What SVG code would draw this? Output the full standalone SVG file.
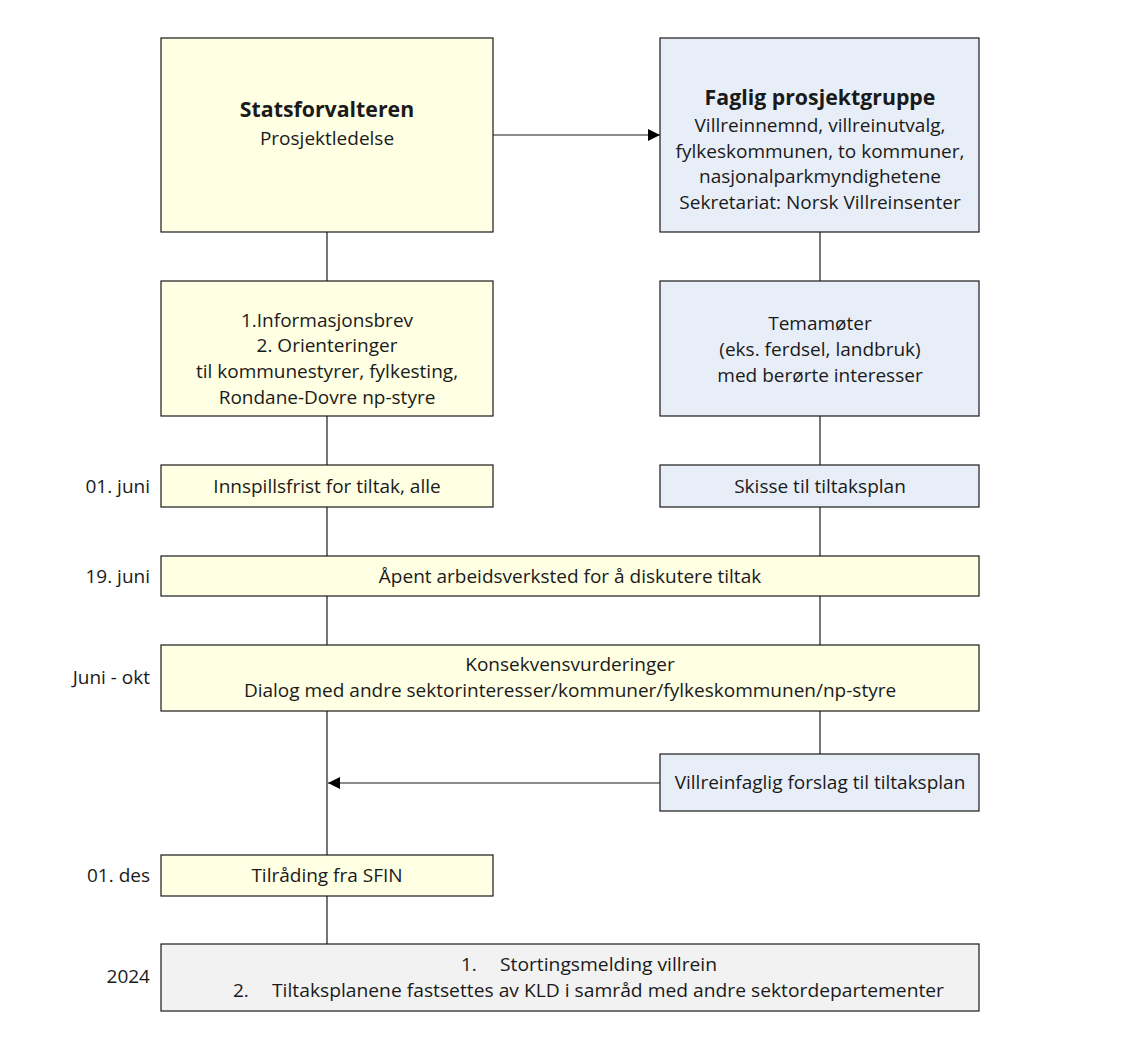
<svg xmlns="http://www.w3.org/2000/svg" width="1128" height="1055" viewBox="0 0 1128 1055">
<style>
.y{fill:#FFFFE3;stroke:#1a1a1a;stroke-width:1.2}
.b{fill:#E8EEF8;stroke:#1a1a1a;stroke-width:1.2}
.g{fill:#F2F2F2;stroke:#1a1a1a;stroke-width:1.2}
text{font-family:"Open Sans","Noto Sans",sans-serif;font-size:19px;fill:#1a1a1a;text-anchor:middle}
.bold{font-weight:bold;font-size:21.3px}
.lab{text-anchor:end}
.st{text-anchor:start}
.ln{stroke:#1a1a1a;stroke-width:1.2;fill:none}
</style>
<defs>
<marker id="ah" viewBox="0 0 12 12" refX="12" refY="6" markerWidth="12" markerHeight="12" markerUnits="userSpaceOnUse" orient="auto">
<path d="M0,0 L12,6 L0,12 z" fill="#000"/>
</marker>
</defs>
<rect width="1128" height="1055" fill="#fff"/>
<g id="connectors">
<line class="ln" x1="493" y1="135" x2="660" y2="135" marker-end="url(#ah)" stroke-width="1"/>
<line class="ln" x1="327" y1="232" x2="327" y2="281"/>
<line class="ln" x1="327" y1="416" x2="327" y2="465"/>
<line class="ln" x1="327" y1="507" x2="327" y2="556"/>
<line class="ln" x1="327" y1="596" x2="327" y2="645"/>
<line class="ln" x1="327" y1="711" x2="327" y2="855"/>
<line class="ln" x1="327" y1="896" x2="327" y2="944"/>
<line class="ln" x1="820" y1="232" x2="820" y2="281"/>
<line class="ln" x1="820" y1="416" x2="820" y2="465"/>
<line class="ln" x1="820" y1="507" x2="820" y2="556"/>
<line class="ln" x1="820" y1="596" x2="820" y2="645"/>
<line class="ln" x1="820" y1="711" x2="820" y2="754"/>
<line class="ln" x1="660" y1="783" x2="328" y2="783" marker-end="url(#ah)" stroke-width="1"/>
</g>
<g id="statsforvalteren">
<rect class="y" x="161" y="38" width="332" height="194"/>
<text class="bold" x="327" y="117">Statsforvalteren</text>
<text x="327" y="145">Prosjektledelse</text>
</g>
<g id="faglig">
<rect class="b" x="660" y="38" width="319" height="194"/>
<text class="bold" x="820" y="105">Faglig prosjektgruppe</text>
<text x="820" y="132">Villreinnemnd, villreinutvalg,</text>
<text x="820" y="158">fylkeskommunen, to kommuner,</text>
<text x="820" y="183">nasjonalparkmyndighetene</text>
<text x="820" y="209">Sekretariat: Norsk Villreinsenter</text>
</g>
<g id="informasjon">
<rect class="y" x="161" y="281" width="332" height="135"/>
<text x="327" y="327">1.Informasjonsbrev</text>
<text x="327" y="352">2. Orienteringer</text>
<text x="327" y="378">til kommunestyrer, fylkesting,</text>
<text x="327" y="404">Rondane-Dovre np-styre</text>
</g>
<g id="temamoter">
<rect class="b" x="660" y="281" width="319" height="135"/>
<text x="820" y="330">Temamøter</text>
<text x="820" y="356">(eks. ferdsel, landbruk)</text>
<text x="820" y="382">med berørte interesser</text>
</g>
<g id="innspill">
<rect class="y" x="161" y="465" width="332" height="42"/>
<text x="327" y="493">Innspillsfrist for tiltak, alle</text>
<text class="lab" x="150" y="493">01. juni</text>
</g>
<g id="skisse">
<rect class="b" x="660" y="465" width="319" height="42"/>
<text x="820" y="493">Skisse til tiltaksplan</text>
</g>
<g id="arbeidsverksted">
<rect class="y" x="161" y="556" width="818" height="40"/>
<text x="570" y="583">Åpent arbeidsverksted for å diskutere tiltak</text>
<text class="lab" x="150" y="583">19. juni</text>
</g>
<g id="konsekvens">
<rect class="y" x="161" y="645" width="818" height="66"/>
<text x="570" y="671">Konsekvensvurderinger</text>
<text x="570" y="697">Dialog med andre sektorinteresser/kommuner/fylkeskommunen/np-styre</text>
<text class="lab" x="150" y="684">Juni - okt</text>
</g>
<g id="villreinfaglig">
<rect class="b" x="660" y="754" width="319" height="57"/>
<text x="820" y="789">Villreinfaglig forslag til tiltaksplan</text>
</g>
<g id="tilraading">
<rect class="y" x="161" y="855" width="332" height="41"/>
<text x="327" y="882">Tilråding fra SFIN</text>
<text class="lab" x="150" y="882">01. des</text>
</g>
<g id="stortingsmelding">
<rect class="g" x="161" y="944" width="818" height="67"/>
<text class="st" x="461" y="971">1.</text>
<text class="st" x="500" y="971" textLength="217" lengthAdjust="spacingAndGlyphs">Stortingsmelding villrein</text>
<text class="st" x="233" y="997">2.</text>
<text class="st" x="272" y="997" textLength="672" lengthAdjust="spacingAndGlyphs">Tiltaksplanene fastsettes av KLD i samråd med andre sektordepartementer</text>
<text class="lab" x="150" y="983">2024</text>
</g>
</svg>
